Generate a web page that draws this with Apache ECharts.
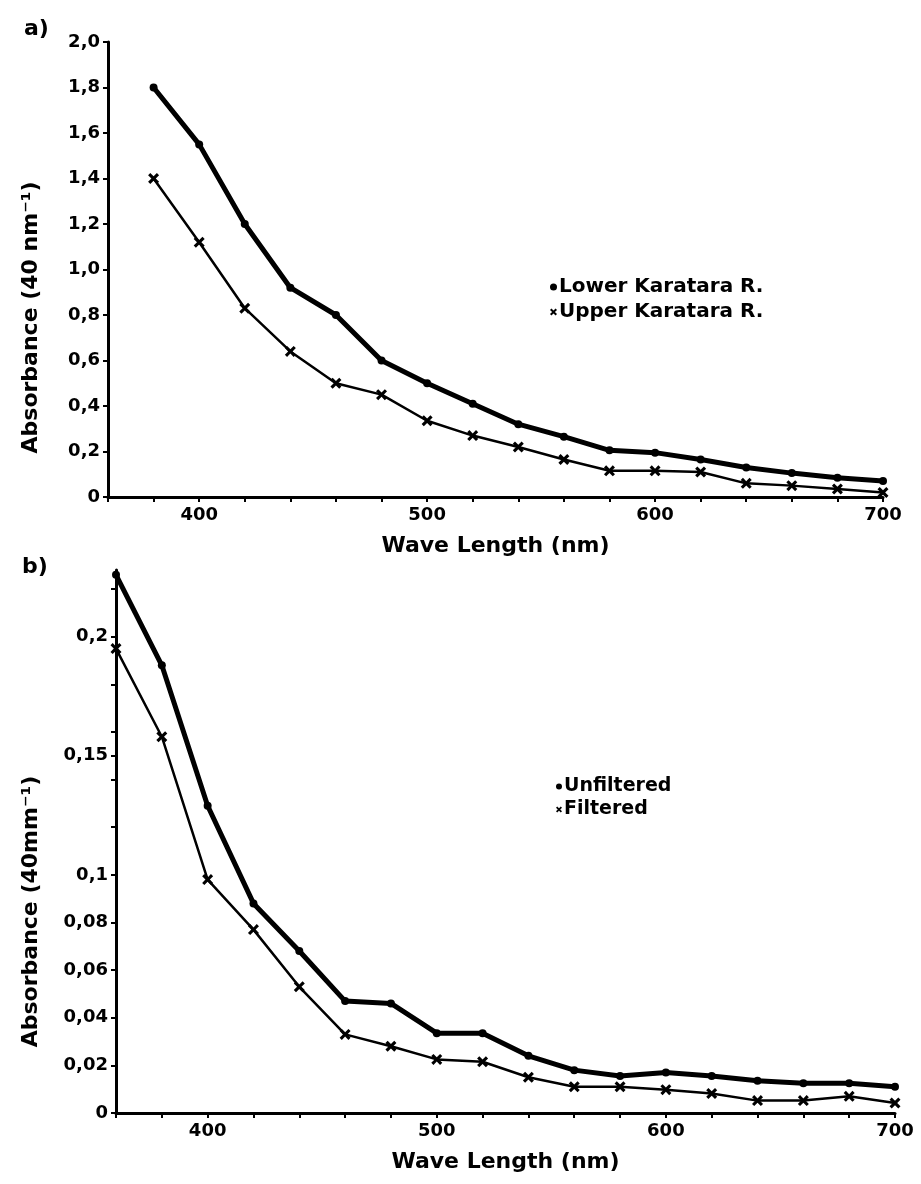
<!DOCTYPE html>
<html>
<head>
<meta charset="utf-8">
<script src="https://cdn.jsdelivr.net/npm/echarts@6/dist/echarts.min.js"></script>
<style>
  html, body { margin: 0; padding: 0; background: #fff; }
  #chart { width: 921px; height: 1184px; }
</style>
</head>
<body>
<div id="chart"></div>
<script>
// ---- Data ----
const wavelengthsA = [380, 400, 420, 440, 460, 480, 500, 520, 540, 560, 580, 600, 620, 640, 660, 680, 700];
const lowerKaratara = [1.80, 1.55, 1.20, 0.92, 0.80, 0.60, 0.50, 0.41, 0.32, 0.265, 0.205, 0.195, 0.165, 0.13, 0.105, 0.085, 0.07];
const upperKaratara = [1.40, 1.12, 0.83, 0.64, 0.50, 0.45, 0.335, 0.27, 0.22, 0.165, 0.115, 0.115, 0.11, 0.06, 0.05, 0.035, 0.02];

const wavelengthsB = [360, 380, 400, 420, 440, 460, 480, 500, 520, 540, 560, 580, 600, 620, 640, 660, 680, 700];
const unfiltered = [0.226, 0.188, 0.129, 0.088, 0.068, 0.047, 0.046, 0.0335, 0.0335, 0.024, 0.018, 0.0155, 0.017, 0.0155, 0.0135, 0.0125, 0.0125, 0.011];
const filtered = [0.195, 0.158, 0.098, 0.077, 0.053, 0.033, 0.028, 0.0225, 0.0215, 0.015, 0.011, 0.011, 0.0098, 0.0082, 0.0052, 0.0052, 0.007, 0.0042];

const xTickLabels = [400, 500, 600, 700];
const yLabelsB = [0, 0.02, 0.04, 0.06, 0.08, 0.1, 0.15, 0.2];
const yTicksB = [0, 0.02, 0.04, 0.06, 0.08, 0.1, 0.12, 0.14, 0.15, 0.16, 0.18, 0.2, 0.22];

const seriesNames = ['Lower Karatara R.', 'Upper Karatara R.', 'Unfiltered', 'Filtered'];
const panelLabels = ['a)', 'b)'];
const xName = 'Wave Length (nm)';
const yNameA = 'Absorbance (40 nm⁻¹)';
const yNameB = 'Absorbance (40mm⁻¹)';

// ---- Styling ----
const FONT = 'DejaVu Sans';
const crossPath = 'path://M0,2 L2,0 L5,3 L8,0 L10,2 L7,5 L10,8 L8,10 L5,7 L2,10 L0,8 L3,5 Z';
const fmtA = v => v === 0 ? '0' : v.toFixed(1).replace('.', ',');
const fmtB = v => v === 0 ? '0' : String(+v.toFixed(3)).replace('.', ',');
const axisLineStyle = { show: true, lineStyle: { color: '#000', width: 3 } };
const tickLabelStyle = { color: '#000', fontFamily: FONT, fontWeight: 'bold', fontSize: 18 };
const nameStyle = { color: '#000', fontFamily: FONT, fontWeight: 'bold', fontSize: 22 };

function xAxisCfg(gridIndex) {
  return {
    type: 'value', gridIndex, min: 360, max: 700, interval: 20,
    name: xName, nameLocation: 'middle', nameGap: 38, nameTextStyle: nameStyle,
    axisLine: axisLineStyle,
    axisTick: { show: true, length: 5, lineStyle: { color: '#000', width: 2 } },
    axisLabel: Object.assign({ margin: 9, formatter: v => xTickLabels.includes(v) ? String(v) : '' }, tickLabelStyle),
    splitLine: { show: false }
  };
}

const chart = echarts.init(document.getElementById('chart'), null, { renderer: 'canvas' });
chart.setOption({
  backgroundColor: '#fff',
  animation: false,
  grid: [
    { left: 108, top: 42, width: 775, height: 455 },
    { left: 116, top: 570, width: 779, height: 543 }
  ],
  xAxis: [xAxisCfg(0), xAxisCfg(1)],
  yAxis: [
    {
      type: 'value', gridIndex: 0, min: 0, max: 2.0, interval: 0.2,
      name: yNameA, nameLocation: 'middle', nameGap: 66, nameRotate: 90,
      nameTextStyle: Object.assign({ padding: [0, 96, 0, 0] }, nameStyle),
      axisLine: axisLineStyle,
      axisTick: { show: true, length: 5, lineStyle: { color: '#000', width: 2 } },
      axisLabel: Object.assign({ margin: 8, formatter: fmtA }, tickLabelStyle),
      splitLine: { show: false }
    },
    {
      type: 'value', gridIndex: 1, min: 0, max: 0.228,
      name: yNameB, nameLocation: 'middle', nameGap: 74, nameRotate: 90,
      nameTextStyle: Object.assign({ padding: [0, 140, 0, 0] }, nameStyle),
      axisLine: axisLineStyle,
      axisTick: { show: true, length: 5, customValues: yTicksB, lineStyle: { color: '#000', width: 2 } },
      axisLabel: Object.assign({ margin: 8, customValues: yLabelsB, formatter: fmtB }, tickLabelStyle),
      splitLine: { show: false }
    }
  ],
  legend: [
    {
      data: [{ name: seriesNames[0], icon: 'circle' }, { name: seriesNames[1], icon: crossPath }],
      orient: 'vertical', left: 545, top: 272, itemWidth: 7, itemHeight: 7, itemGap: 5,
      textStyle: { color: '#000', fontFamily: FONT, fontWeight: 'bold', fontSize: 20, padding: [0, 0, 0, -3] },
      selectedMode: false
    },
    {
      data: [{ name: seriesNames[2], icon: 'circle' }, { name: seriesNames[3], icon: crossPath }],
      orient: 'vertical', left: 551, top: 772, itemWidth: 6, itemHeight: 6, itemGap: 4,
      textStyle: { color: '#000', fontFamily: FONT, fontWeight: 'bold', fontSize: 19, padding: [0, 0, 0, -3] },
      selectedMode: false
    }
  ],
  graphic: [
    { type: 'text', left: 24, top: 18, style: { text: panelLabels[0], fill: '#000', font: 'bold 22px "DejaVu Sans"' } },
    { type: 'text', left: 22, top: 556, style: { text: panelLabels[1], fill: '#000', font: 'bold 22px "DejaVu Sans"' } }
  ],
  series: [
    {
      name: seriesNames[0], type: 'line', xAxisIndex: 0, yAxisIndex: 0,
      data: wavelengthsA.map((w, i) => [w, lowerKaratara[i]]),
      symbol: 'circle', symbolSize: 8, lineStyle: { color: '#000', width: 5 }, itemStyle: { color: '#000' }
    },
    {
      name: seriesNames[1], type: 'line', xAxisIndex: 0, yAxisIndex: 0,
      data: wavelengthsA.map((w, i) => [w, upperKaratara[i]]),
      symbol: crossPath, symbolSize: 11, lineStyle: { color: '#000', width: 2.5 }, itemStyle: { color: '#000' }
    },
    {
      name: seriesNames[2], type: 'line', xAxisIndex: 1, yAxisIndex: 1,
      data: wavelengthsB.map((w, i) => [w, unfiltered[i]]),
      symbol: 'circle', symbolSize: 8, lineStyle: { color: '#000', width: 5 }, itemStyle: { color: '#000' }
    },
    {
      name: seriesNames[3], type: 'line', xAxisIndex: 1, yAxisIndex: 1,
      data: wavelengthsB.map((w, i) => [w, filtered[i]]),
      symbol: crossPath, symbolSize: 11, lineStyle: { color: '#000', width: 2.5 }, itemStyle: { color: '#000' }
    }
  ]
});
</script>
</body>
</html>
